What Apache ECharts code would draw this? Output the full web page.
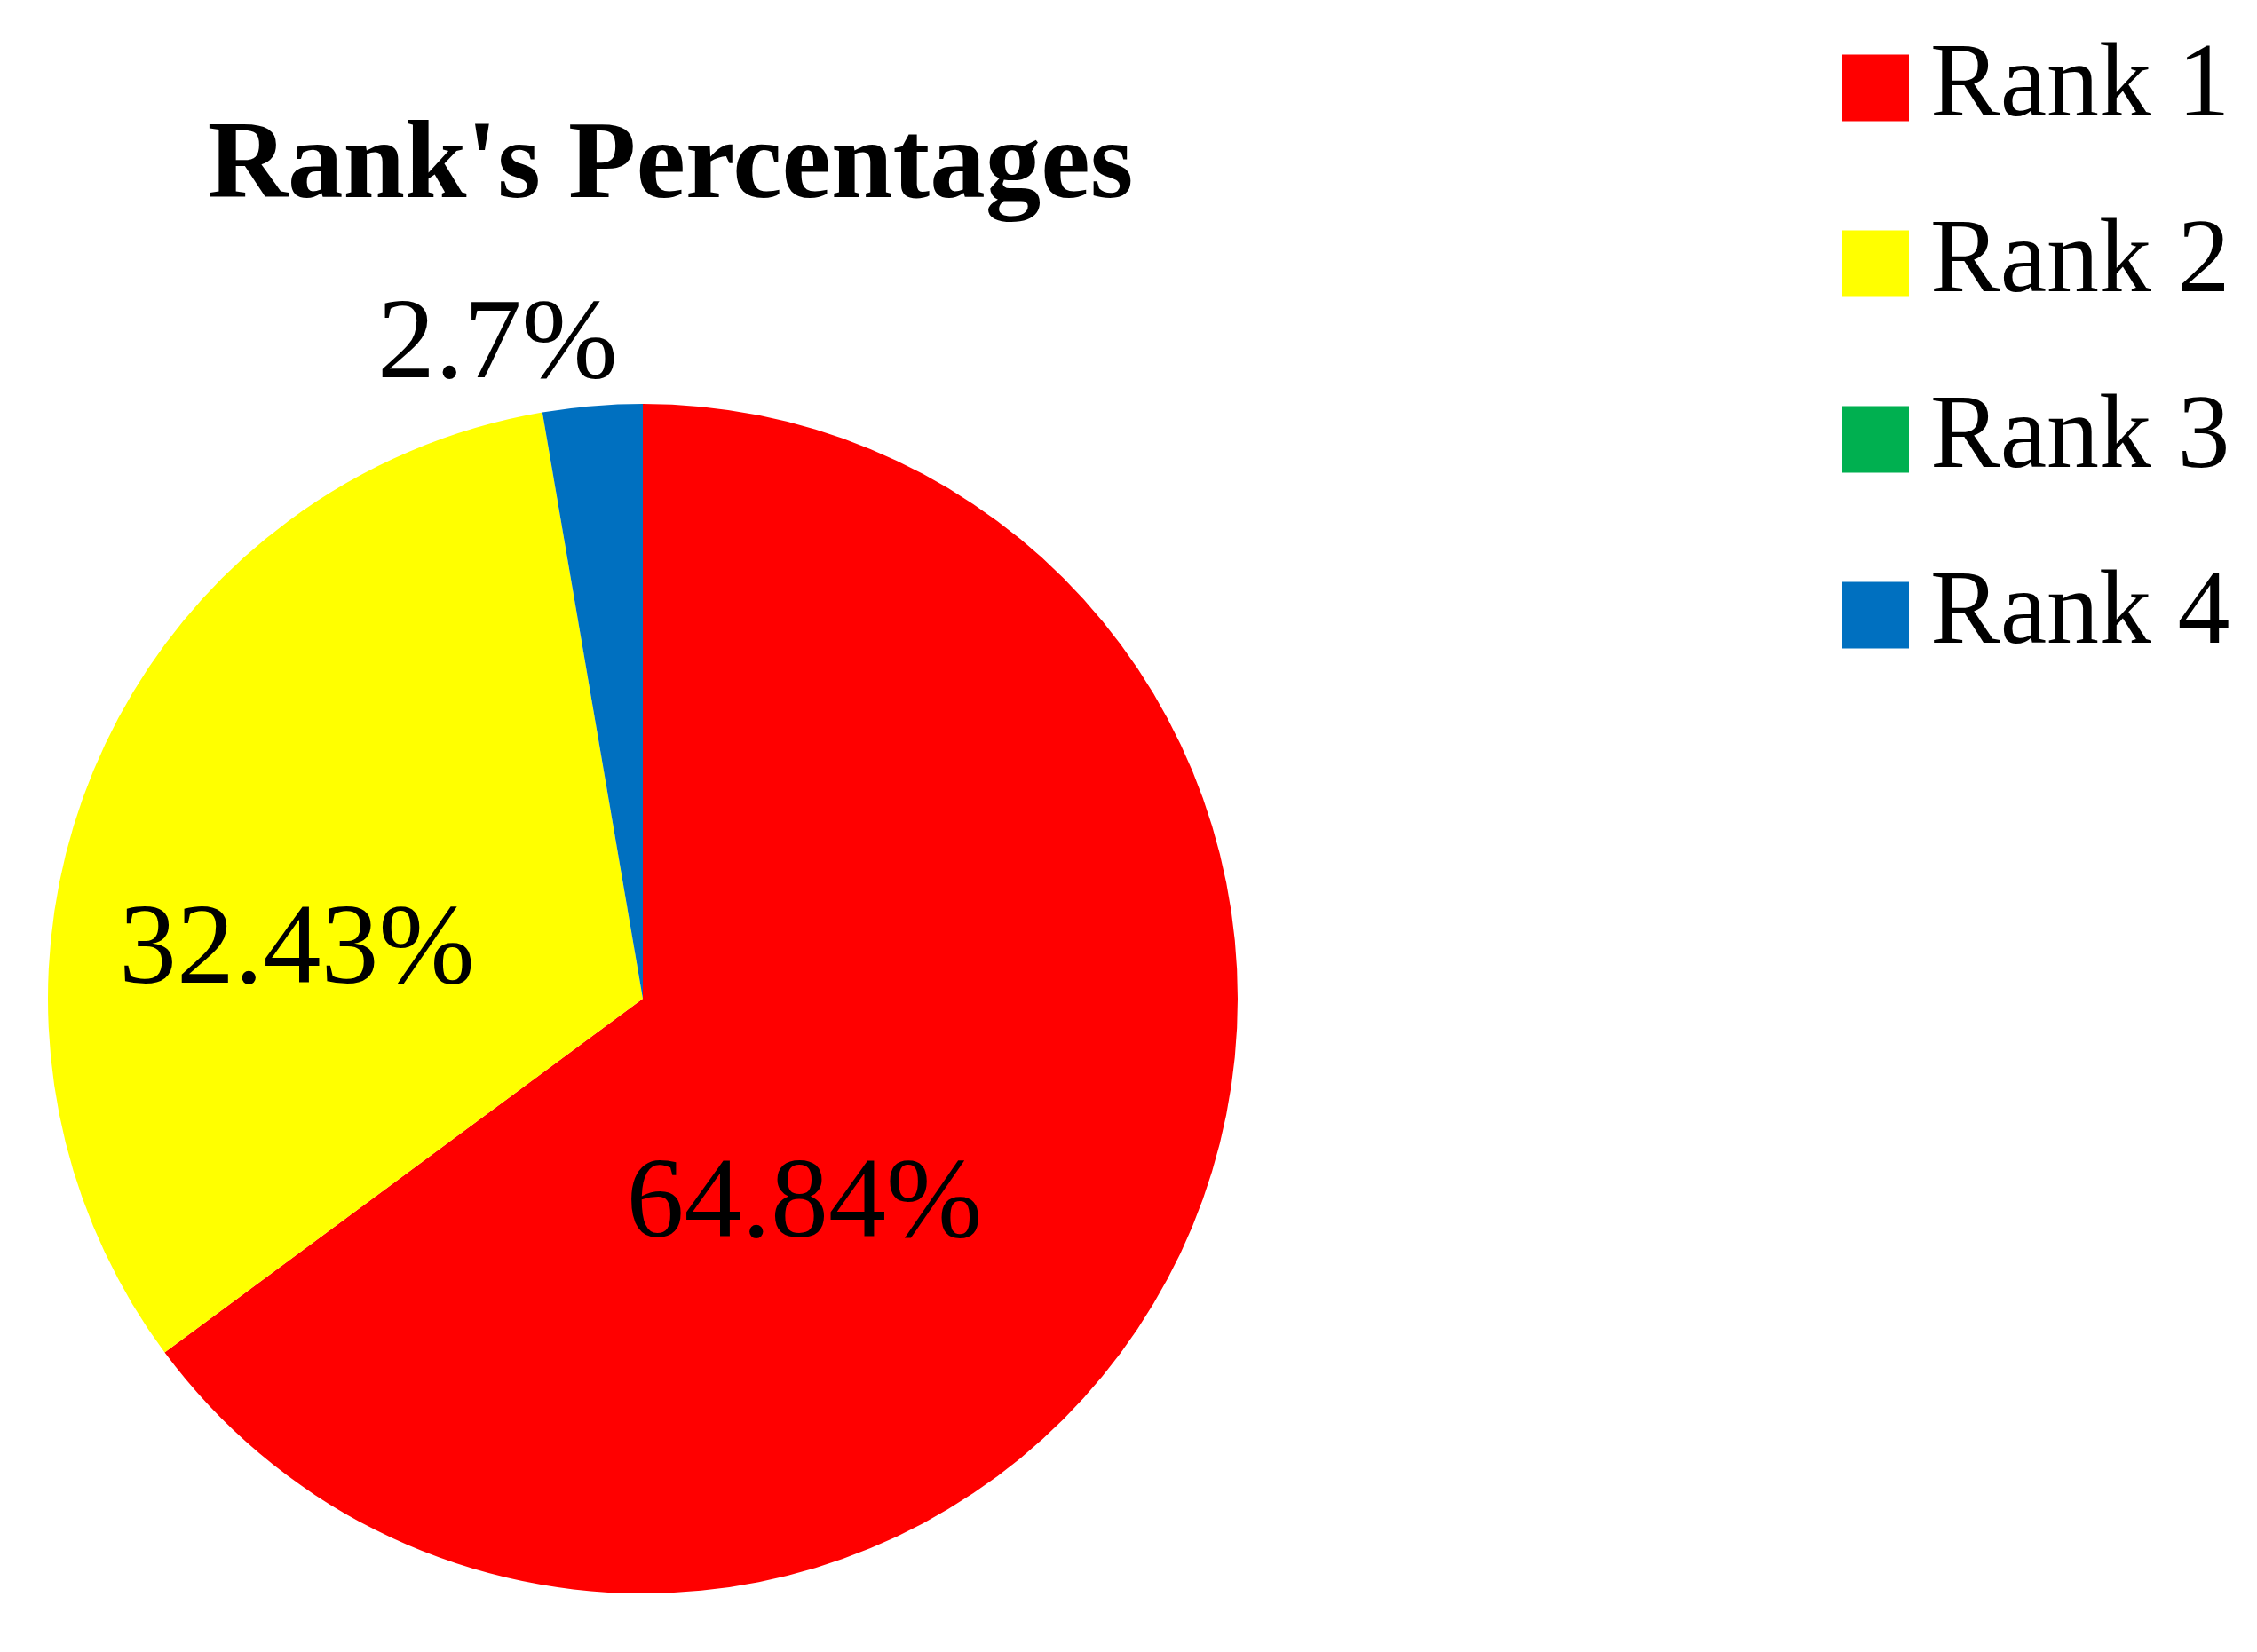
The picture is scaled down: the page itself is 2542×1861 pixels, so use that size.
<!DOCTYPE html>
<html>
<head>
<meta charset="utf-8">
<script src="https://cdn.jsdelivr.net/npm/echarts@6/dist/echarts.min.js"></script>
<style>
html,body{margin:0;padding:0;background:#fff;}
#chart{width:2542px;height:1861px;}
</style>
</head>
<body>
<div id="chart"></div>
<script>
const categories = ['Rank 1', 'Rank 2', 'Rank 3', 'Rank 4'];
const values = [64.84, 32.43, 0, 2.7];
const colors = ['#FF0000', '#FFFF00', '#00B050', '#0070C0'];
const labelTexts = ['64.84%', '32.43%', '', '2.7%'];
const labelShift = [[-120, 82], [-76, 74], [0, 0], [-135, -397]];

const chart = echarts.init(document.getElementById('chart'), null, {renderer: 'canvas'});
const option = {
  animation: false,
  backgroundColor: '#ffffff',
  title: {
    text: "Rank's Percentages",
    left: 750,
    top: 122,
    textAlign: 'center',
    textStyle: {fontFamily: 'Liberation Serif', fontWeight: 'bold', fontSize: 125, color: '#000'}
  },
  legend: {
    orient: 'vertical',
    left: 2070,
    top: 35,
    itemWidth: 75,
    itemHeight: 75,
    itemGap: 80,
    icon: 'rect',
    data: categories,
    textStyle: {fontFamily: 'Liberation Serif', fontSize: 118, color: '#000', padding: [0, 0, 0, 19]}
  },
  series: [{
    type: 'pie',
    center: [724, 1125],
    radius: [0, 670],
    startAngle: 90,
    clockwise: true,
    avoidLabelOverlap: false,
    stillShowZeroSum: true,
    label: {
      show: true,
      position: 'inside',
      fontFamily: 'Liberation Serif',
      fontSize: 130,
      color: '#000',
      formatter: p => labelTexts[p.dataIndex]
    },
    labelLine: {show: false},
    labelLayout: function (params) {
      const s = labelShift[params.dataIndex];
      return {dx: s[0], dy: s[1]};
    },
    emphasis: {disabled: true},
    data: categories.map((c, i) => ({
      name: c,
      value: values[i],
      itemStyle: {color: colors[i]},
      label: {show: values[i] > 0}
    }))
  }]
};
chart.setOption(option);
</script>
</body>
</html>
